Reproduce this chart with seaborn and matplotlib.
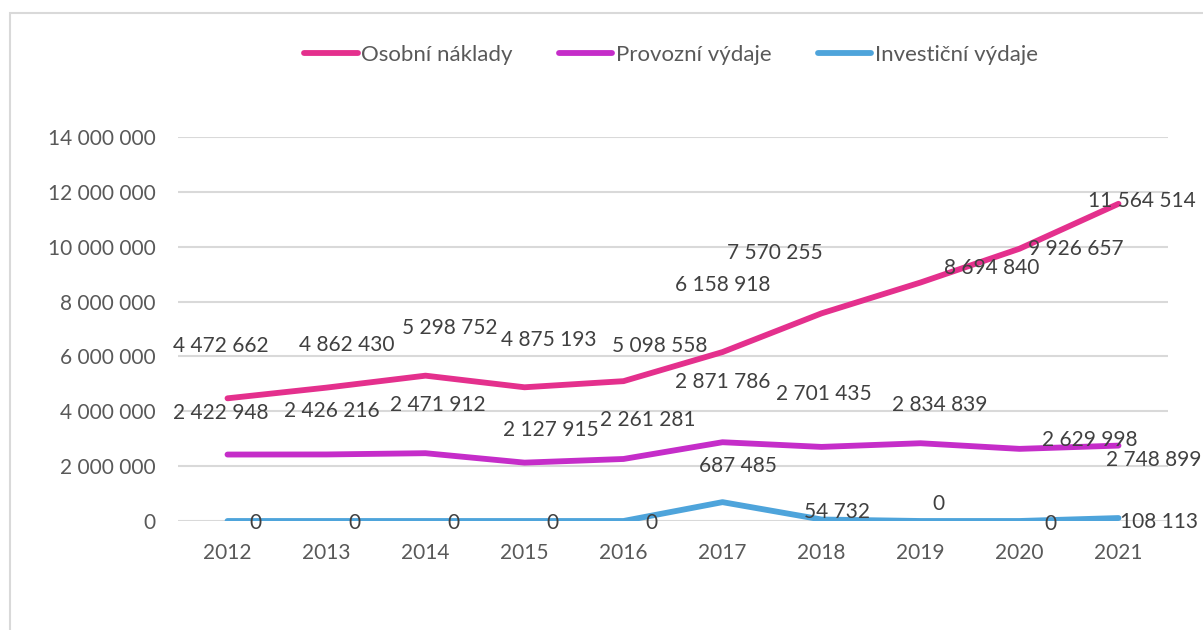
import pandas as pd
import matplotlib.pyplot as plt
import seaborn as sns
from matplotlib.patches import Rectangle

# data
roky = [2012, 2013, 2014, 2015, 2016, 2017, 2018, 2019, 2020, 2021]
osobni = [4472662, 4862430, 5298752, 4875193, 5098558, 6158918, 7570255, 8694840, 9926657, 11564514]
provozni = [2422948, 2426216, 2471912, 2127915, 2261281, 2871786, 2701435, 2834839, 2629998, 2748899]
investicni = [0, 0, 0, 0, 0, 687485, 54732, 0, 0, 108113]
serie = ['Osobní náklady', 'Provozní výdaje', 'Investiční výdaje']
barvy = ['#E4308D', '#C52DC9', '#4EA4DB']

# posun popisků (pixely) - kopíruje rozmístění z Excelu
posun = {
    'Osobní náklady': [(-7, 52), (20, 43), (24, 48), (24, 47), (36, 35), (0, 67), (-47, 60), (71, 15), (56, 0), (23, 3)],
    'Provozní výdaje': [(-7, 42), (5, 43), (12, 48), (26, 33), (24, 39), (0, 60), (2, 53), (19, 38), (70, 9), (35, -14)],
    'Investiční výdaje': [(28, -2), (28, -2), (28, -2), (28, -2), (28, -2), (15, 36), (16, 7), (18, 17), (31, -3), (40, -4)],
}

df = pd.DataFrame({'rok': roky * 3,
                   'hodnota': osobni + provozni + investicni,
                   'serie': sum([[s] * len(roky) for s in serie], [])})
df['x'] = df['rok'] - roky[0]

def fmt(v):
    return f'{int(v):,}'.replace(',', ' ')

sns.set_style('white')
plt.rcParams['font.family'] = ['Lato', 'DejaVu Sans']

fig = plt.figure(figsize=(12.03, 6.3), dpi=100)
ax = fig.add_axes([178 / 1203, 1 - 521 / 630, (1168 - 178) / 1203, (521 - 137) / 630])

sns.lineplot(data=df, x='x', y='hodnota', hue='serie', hue_order=serie,
             palette=barvy, linewidth=4.2, ax=ax, legend=False, sort=False)
for line in ax.lines:
    line.set_solid_capstyle('round')
    line.set_solid_joinstyle('round')

ax.set_xlim(-0.5, len(roky) - 0.5)
ax.set_ylim(0, 14000000)
ax.set_yticks(range(0, 14000001, 2000000))
ax.set_yticklabels([fmt(v) for v in range(0, 14000001, 2000000)])
ax.set_xticks(range(len(roky)))
ax.set_xticklabels([str(r) for r in roky])
ax.yaxis.grid(True, color='#D9D9D9', linewidth=1.5)
ax.set_axisbelow(True)
for s in ax.spines.values():
    s.set_visible(False)
ax.tick_params(axis='both', length=0, labelsize=15, colors='#595959')
ax.tick_params(axis='y', pad=16)
ax.tick_params(axis='x', pad=16)
ax.set_xlabel('')
ax.set_ylabel('')

for s in serie:
    sub = df[df['serie'] == s].reset_index(drop=True)
    for i, row in sub.iterrows():
        dx, dy = posun[s][i]
        ax.annotate(fmt(row['hodnota']), (row['x'], row['hodnota']),
                    xytext=(dx, dy), textcoords='offset pixels',
                    ha='center', va='center', fontsize=15, color='#404040',
                    annotation_clip=False)

handles = [plt.Line2D([], [], color=c, linewidth=4.2, solid_capstyle='round') for c in barvy]
fig.legend(handles, serie, loc='center', bbox_to_anchor=(671 / 1203, 1 - 55 / 630),
           ncol=3, frameon=False, fontsize=16, handlelength=2.4, handletextpad=0.15,
           columnspacing=2.1, labelcolor='#595959')

# rámeček grafu
fig.patches.append(Rectangle((10 / 1203, -0.1), 1.2, 1.1 - 13 / 630, transform=fig.transFigure,
                             fill=False, edgecolor='#D9D9D9', linewidth=1.5))

fig.savefig('out.png', dpi=100)
